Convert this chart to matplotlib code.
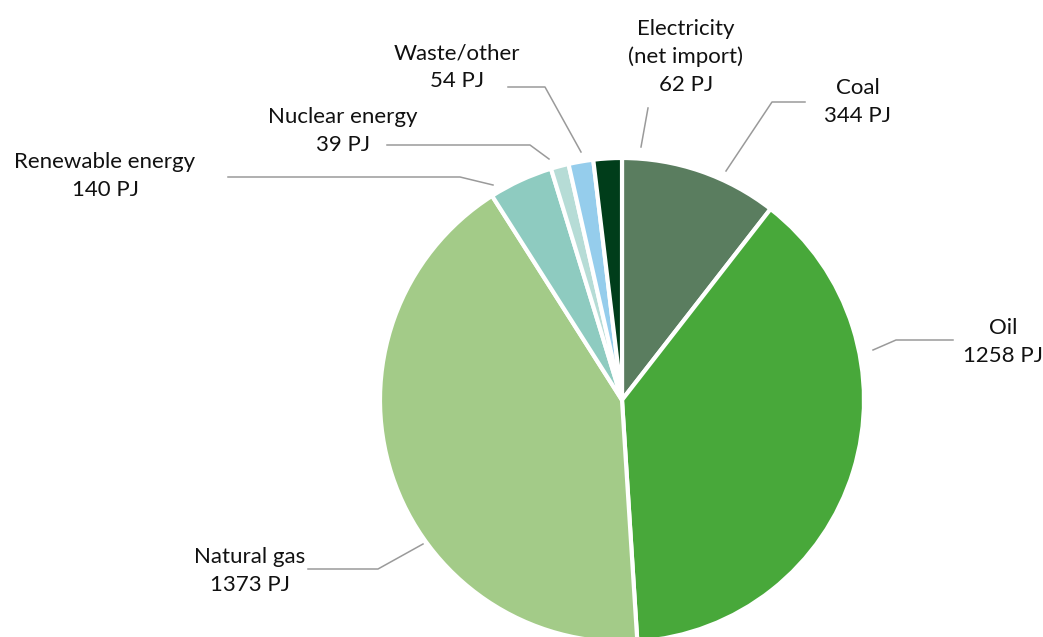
import matplotlib
matplotlib.use("Agg")
import matplotlib.pyplot as plt

W, H = 1043, 637

sources = ["Coal", "Oil", "Natural gas", "Renewable energy",
           "Nuclear energy", "Waste/other", "Electricity\n(net import)"]
values_pj = [344, 1258, 1373, 140, 39, 54, 62]
colors = ["#5a7d5f", "#48a83a", "#a3cb88", "#8ecbc0",
          "#b6dcd6", "#95cdec", "#003d1a"]

# label centre (px) and leader line points (px, top-left origin)
label_pos = [(858, 102), (1003, 342), (250, 571), (105, 176),
             (343, 131), (457, 67), (686, 57)]
leaders = [
    [(805, 102), (772, 102), (726, 171)],
    [(953, 340), (896, 340), (873, 350)],
    [(308, 569), (378, 569), (423, 544)],
    [(228, 177), (460, 177), (493, 185)],
    [(387, 145), (530, 145), (549, 159)],
    [(508, 87), (545, 87), (581, 152)],
    [(648, 108), (641, 147)],
]

plt.rcParams['font.family'] = ['Lato', 'DejaVu Sans']

fig = plt.figure(figsize=(W / 100, H / 100), dpi=100)
ax = fig.add_axes([0, 0, 1, 1])

ax.pie(values_pj, colors=colors, startangle=90, counterclock=False,
       center=(622, H - 400), radius=242, frame=True,
       wedgeprops=dict(edgecolor="white", linewidth=3))

for name, val, (lx, ly), pts in zip(sources, values_pj, label_pos, leaders):
    ax.text(lx, H - ly, f"{name}\n{val} PJ", ha="center", va="center",
            fontsize=16, color="#111111", linespacing=1.45)
    ax.plot([p[0] for p in pts], [H - p[1] for p in pts],
            color="#9a9a9a", linewidth=1.1)

ax.set_xlim(0, W)
ax.set_ylim(0, H)
ax.axis("off")

fig.savefig("out.png", dpi=100)
